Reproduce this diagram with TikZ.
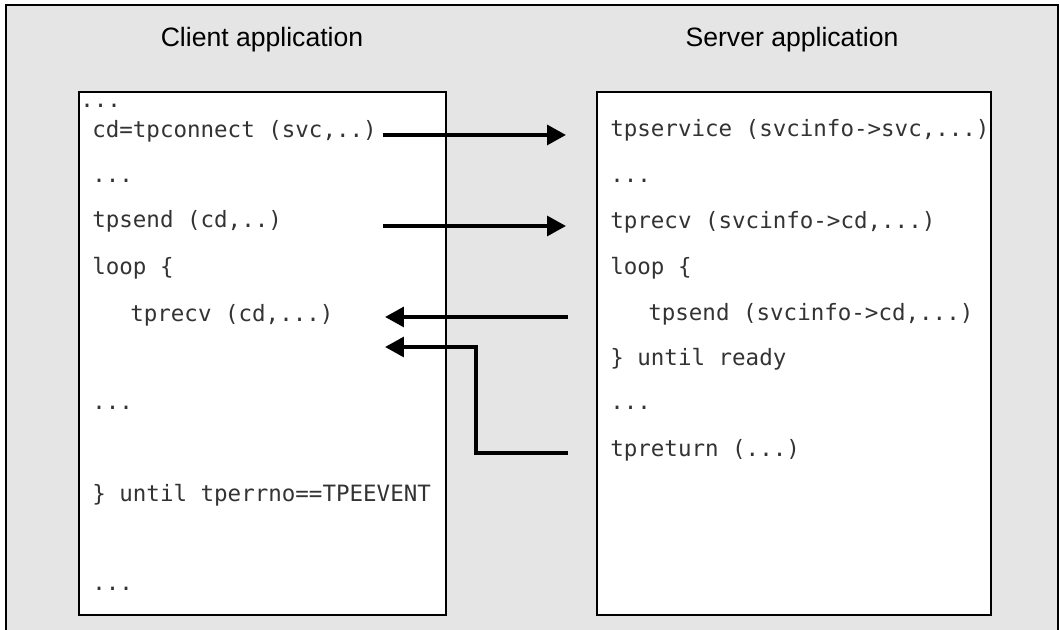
\documentclass[tikz,border=0pt]{standalone}
\usepackage{fontspec}
\setsansfont{Liberation Sans}
\setmonofont{DejaVu Sans Mono}
\usetikzlibrary{arrows.meta,calc}
\tikzset{>={Triangle[length=13.5pt,width=14pt]}}

\begin{document}
\begin{tikzpicture}[x=0.025cm,y=-0.025cm,
    title/.style={anchor=base,inner sep=0,font=\sffamily\fontsize{18.9}{20}\selectfont},
    code/.style={anchor=base west,inner sep=0,text=black!80,font=\ttfamily\fontsize{16}{18}\selectfont},
    box/.style={draw=black,line width=0.8pt,fill=white},
    flow/.style={->,line width=2.9pt}]
      \useasboundingbox (0,0) rectangle (1060,630);
      \fill[black!10] (6,5) rectangle (1058,630);
      \draw[line width=0.8pt] (6,630) -- (6,5) -- (1058,5) -- (1058,630);

      \node[title] (client) at (262,47) {Client application};
      \node[title] (server) at (792,47) {Server application};

      \draw[box] (79,92) rectangle (446,615);
      \draw[box] (597,92) rectangle (991,615);

      % client side
      \node[code] (cdots0) at (80,108) {...};
      \node[code] (cconnect) at (92,138) {cd=tpconnect (svc,..)};
      \node[code] (cdots1) at (92,183) {...};
      \node[code] (csend) at (92,228) {tpsend (cd,..)};
      \node[code] (cloop) at (92,274) {loop \{};
      \node[code] (crecv) at (130,321) {tprecv (cd,...)};
      \node[code] (cdots2) at (92,409) {...};
      \node[code] (cuntil) at (92,501) {\} until tperrno==TPEEVENT};
      \node[code] (cdots3) at (92,590) {...};

      % server side
      \node[code] (sservice) at (610,137) {tpservice (svcinfo->svc,...)};
      \node[code] (sdots1) at (610,183) {...};
      \node[code] (srecv) at (610,229) {tprecv (svcinfo->cd,...)};
      \node[code] (sloop) at (610,274) {loop \{};
      \node[code] (ssend) at (648,320) {tpsend (svcinfo->cd,...)};
      \node[code] (suntil) at (610,365) {\} until ready};
      \node[code] (sdots2) at (610,409) {...};
      \node[code] (sreturn) at (610,456) {tpreturn (...)};

      \coordinate (cout) at (383,0);
      \coordinate (cin) at (385,0);
      \coordinate (sin) at (566,0);
      \coordinate (sout) at (568,0);
      \coordinate (bend) at (476,0);
      \coordinate (back) at (385,347);

      \draw[flow] (cconnect.mid -| cout) -- (cconnect.mid -| sin);
      \draw[flow] ($(csend.base -| cout)+(0,-2)$) -- ($(csend.base -| sin)+(0,-2)$);
      \draw[flow] (ssend.mid -| sout) -- (ssend.mid -| cin);
      \draw[flow] (sreturn.mid -| sout) -| (bend |- back) -- (back);
    \end{tikzpicture}
\end{document}
